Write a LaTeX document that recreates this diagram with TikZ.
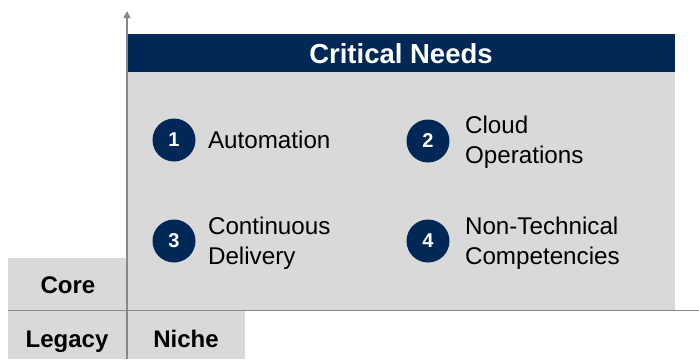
\documentclass[tikz,border=0pt]{standalone}
\usepackage{fontspec}
\setmainfont{Liberation Sans}
\usetikzlibrary{arrows.meta}
\definecolor{navy}{HTML}{002856}
\definecolor{boxgray}{HTML}{D9D9D9}
\definecolor{axisgray}{HTML}{808A8A}
\begin{document}
\begin{tikzpicture}[x=1pt,y=-1pt,
  celltext/.style={font=\fontsize{24}{28}\selectfont\bfseries,text=black},
  numdot/.style={circle,fill=navy,minimum size=43pt,inner sep=0pt,text=white,font=\fontsize{20}{24}\selectfont\bfseries},
  need/.style={anchor=west,align=left,font=\fontsize{24.2}{29.5}\selectfont,text=black},
  axis/.style={draw=axisgray,line width=1.5pt}]
\useasboundingbox (0,0) rectangle (699,359);
% boxes
\fill[boxgray] (128,34) rectangle (675,310);
\fill[navy] (128,34) rectangle (675,72);
\fill[boxgray] (8,258) rectangle (127,310);
\fill[boxgray] (8,311) rectangle (127,359);
\fill[boxgray] (127,311) rectangle (245,359);
\node[font=\fontsize{27.5}{31}\selectfont\bfseries,text=white] (title) at (401,53.5) {Critical Needs};
\node[celltext] (core) at (68,285) {Core};
\node[celltext] (legacy) at (67,341.5) {Legacy};
\node[celltext] (niche) at (186,338.5) {Niche};
% axes
\coordinate (ytop) at (127,11);
\coordinate (ybot) at (127,359);
\coordinate (xl) at (8,310.5);
\coordinate (xr) at (699,310.5);
\draw[axis,-{Triangle[length=7pt,width=7pt]}] (ybot) -- (ytop);
\draw[axis] (xl) -- (xr);
% items
\node[numdot] (n1) at (174,140) {1};
\node[need] (t1) at (204.5,140) {Automation};
\node[numdot] (n2) at (428,141) {2};
\node[need] (t2) at (461.5,142) {Cloud\\Operations};
\node[numdot] (n3) at (174,241) {3};
\node[need] (t3) at (204.5,243) {Continuous\\Delivery};
\node[numdot] (n4) at (428,241) {4};
\node[need] (t4) at (461.5,243) {Non-Technical\\Competencies};
\end{tikzpicture}
\end{document}
